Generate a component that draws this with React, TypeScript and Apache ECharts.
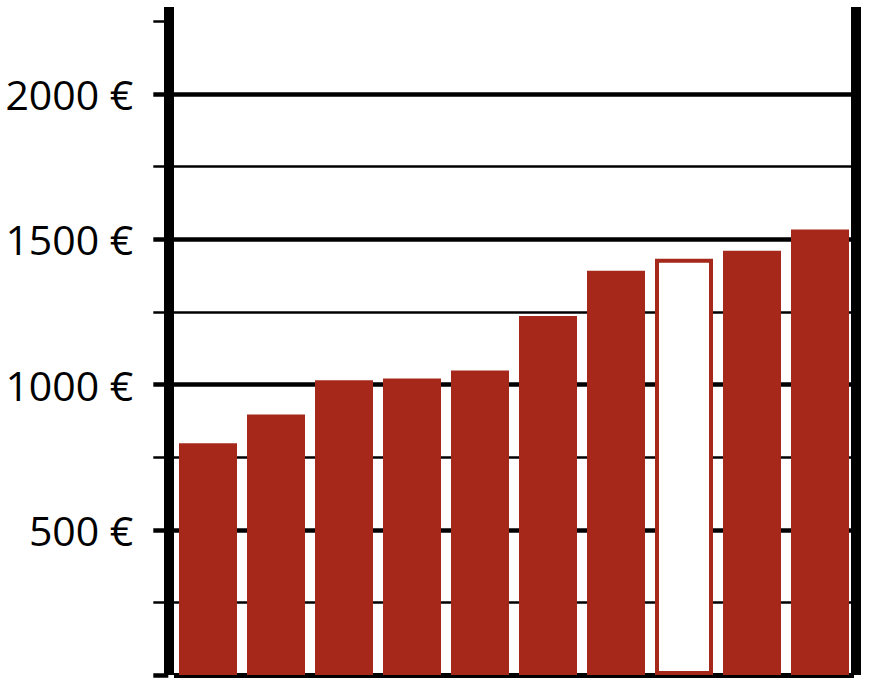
import React, { useEffect, useRef } from "react";
import * as echarts from "echarts";

const categories = ["1", "2", "3", "4", "5", "6", "7", "8", "9", "10"];
const values = [798, 897, 1015, 1021, 1048, 1236, 1392, 1433, 1461, 1534];
const hollowIndex = 7;
const majorTicks = [0, 500, 1000, 1500, 2000];
const minorTicks = [250, 750, 1250, 1750, 2250];
const tickLabels = ["500 €", "1000 €", "1500 €", "2000 €"];
const labelValues = [500, 1000, 1500, 2000];

const RED = "#A5281A";

export default function App() {
  const ref = useRef<HTMLDivElement>(null);
  useEffect(() => {
    if (!ref.current) return;
    const chart = echarts.init(ref.current, null, { renderer: "svg" });
    const data = values.map((v, i) =>
      i === hollowIndex
        ? { value: v, itemStyle: { color: "#ffffff", borderColor: RED, borderWidth: 4 } }
        : { value: v, itemStyle: { color: RED } }
    );
    chart.setOption({
      animation: false,
      backgroundColor: "#ffffff",
      grid: { left: 174, right: 18, top: 7, bottom: 14, containLabel: false },
      xAxis: {
        type: "category",
        data: categories,
        boundaryGap: true,
        axisLine: { show: true, lineStyle: { color: "#000", width: 5, cap: "butt" } },
        axisTick: { show: false },
        axisLabel: { show: false },
        splitLine: { show: false },
      },
      yAxis: [
        {
          type: "value",
          position: "left",
          min: 0,
          max: 2300,
          interval: 250,
          offset: 5.7,
          axisLine: { show: false },
          axisTick: { show: true, length: 15, inside: false, lineStyle: { color: "#000", width: 2.5 }, customValues: minorTicks },
          axisLabel: { show: false },
          splitLine: { show: true, showMaxLine: false, lineStyle: { color: "#000", width: 2.5 } },
        },
        {
          type: "value",
          position: "left",
          min: 0,
          max: 2300,
          interval: 500,
          offset: 5.7,
          axisLine: { show: true, lineStyle: { color: "#000", width: 10, cap: "butt" } },
          axisTick: { show: true, length: 15, lineStyle: { color: "#000", width: 4.5 }, customValues: majorTicks },
          axisLabel: {
            show: true,
            customValues: labelValues,
            margin: 35,
            fontFamily: "Open Sans",
            fontSize: 41,
            color: "#000",
            formatter: (v: number) => {
              const i = labelValues.indexOf(v);
              return i >= 0 ? tickLabels[i] : "";
            },
          },
          splitLine: { show: true, lineStyle: { color: "#000", width: 4.5 } },
        },
        {
          type: "value",
          position: "right",
          min: 0,
          max: 2300,
          offset: 1.5,
          axisLine: { show: true, lineStyle: { color: "#000", width: 10, cap: "butt" } },
          axisTick: { show: false },
          axisLabel: { show: false },
          splitLine: { show: false },
        },
      ],
      series: [
        {
          type: "bar",
          yAxisIndex: 1,
          data,
          barWidth: 58,
        },
      ],
    });
    return () => chart.dispose();
  }, []);
  return (
    <div
      ref={ref}
      style={{ position: "absolute", left: 0, top: 0, width: 872, height: 689 }}
    />
  );
}
